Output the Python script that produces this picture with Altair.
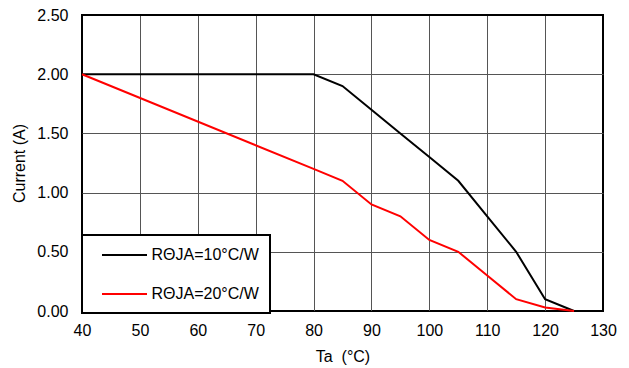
import altair as alt
import pandas as pd

temps = [40, 80, 85, 90, 95, 100, 105, 110, 115, 120, 125]
r10 = [2.0, 2.0, 1.9, 1.7, 1.5, 1.3, 1.1, 0.8, 0.5, 0.1, 0.0]
r20 = [2.0, 1.2, 1.1, 0.9, 0.8, 0.6, 0.5, 0.3, 0.1, 0.03, 0.0]
series = ["RΘJA=10°C/W", "RΘJA=20°C/W"]
colors = ["#000000", "#FF0000"]
x_ticks = [40, 50, 60, 70, 80, 90, 100, 110, 120, 130]
y_ticks = [0.0, 0.5, 1.0, 1.5, 2.0, 2.5]

rows = []
for t, a, b in zip(temps, r10, r20):
    rows.append({"Ta": t, "I": a, "s": series[0]})
    rows.append({"Ta": t, "I": b, "s": series[1]})
df = pd.DataFrame(rows)

FONT = "Liberation Sans"

edge_x = {"condition": {"test": "datum.value == 40 || datum.value == 130", "value": "#000000"}, "value": "#555555"}
edge_y = {"condition": {"test": "datum.value == 0 || datum.value == 2.5", "value": "#000000"}, "value": "#555555"}

chart = alt.Chart(df).mark_line(strokeWidth=2).encode(
    x=alt.X("Ta:Q", scale=alt.Scale(domain=[40, 130], nice=False, zero=False),
            axis=alt.Axis(values=x_ticks, format="d", title="Ta\u00a0\u00a0(°C)",
                          labelFlush=False, labelOverlap=False,
                          labelPadding=11, titlePadding=10, gridColor=edge_x)),
    y=alt.Y("I:Q", scale=alt.Scale(domain=[0, 2.5], nice=False),
            axis=alt.Axis(values=y_ticks, format=".2f", title="Current (A)",
                          labelFlush=False, labelOverlap=False,
                          labelPadding=14, titlePadding=9, gridColor=edge_y)),
    color=alt.Color("s:N", scale=alt.Scale(domain=series, range=colors),
                    legend=alt.Legend(title=None, orient="none", legendX=0, legendY=220,
                                      direction="vertical",
                                      symbolType="M-2.8125,0H2.8125", symbolSize=256,
                                      symbolStrokeWidth=2, symbolOffset=22.5, labelOffset=18,
                                      labelFont=FONT, labelFontSize=16, labelColor="#000000",
                                      rowPadding=22, padding=11,
                                      strokeColor="#000000", fillColor="#FFFFFF")),
    order="Ta:Q",
).properties(
    width=521, height=296,
    padding={"left": 74, "top": 7, "right": 18, "bottom": 60},
    autosize=alt.AutoSizeParams(type="none"),
).configure_view(
    stroke="#000000", strokeWidth=2
).configure_axis(
    domain=False, ticks=False, grid=True, gridWidth=1,
    labelFont=FONT, labelFontSize=16, labelColor="#000000",
    titleFont=FONT, titleFontSize=16, titleFontWeight="normal", titleColor="#000000",
).configure_legend(
    strokeWidth=2
)

chart.save("out.html", embed_options={"renderer": "svg", "actions": False})
